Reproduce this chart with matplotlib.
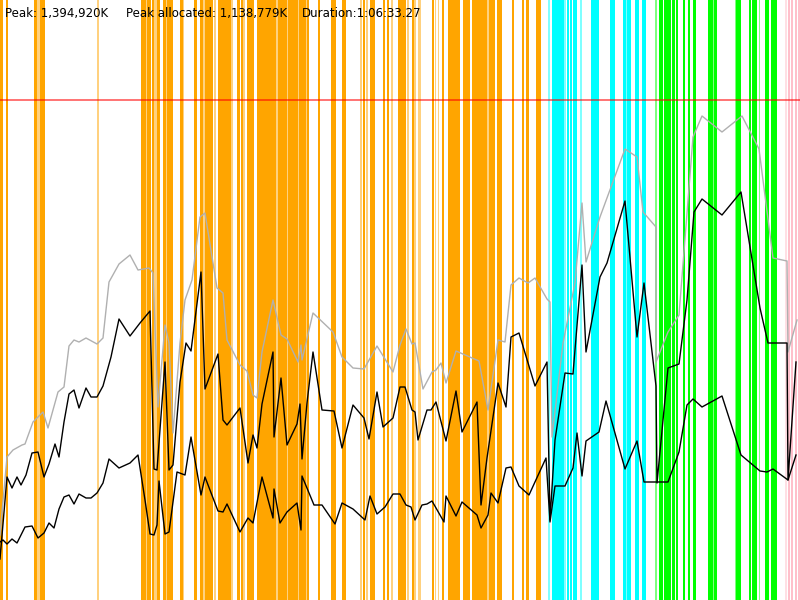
import matplotlib
matplotlib.use("Agg")
import matplotlib.pyplot as plt

# Event bands along the time axis: (start, width)
orange_spans = [(0, 3), (6, 2), (34, 3), (40, 5), (141, 5), (147, 4), (152, 2), (157, 3),
                (163, 3), (167, 6), (180, 3), (194, 3), (200, 3), (205, 8), (218, 13),
                (237, 3), (241, 2), (247, 7), (257, 4), (261, 15), (278, 9), (288, 10),
                (299, 7), (307, 2), (318, 2), (331, 5), (342, 2), (344, 2), (363, 2),
                (370, 5), (383, 2), (387, 2), (398, 8), (412, 2), (432, 2), (442, 2),
                (448, 12), (463, 7), (472, 11), (483, 4), (489, 6), (497, 5), (512, 2),
                (522, 2), (526, 3), (536, 5)]
orange_light = [(37, 3), (97, 2), (146, 1), (154, 3), (166, 1), (183, 1), (203, 2),
                (214, 2), (231, 2), (243, 2), (276, 2), (287, 1), (298, 1), (306, 1),
                (360, 2), (366, 2), (391, 2), (407, 2), (414, 2), (418, 3), (435, 1),
                (438, 1), (487, 2)]
cyan_spans = [(552, 12), (567, 2), (570, 2), (573, 4), (591, 8), (610, 5), (623, 3),
              (627, 4), (635, 4), (642, 4)]
cyan_light = [(548, 2), (564, 2), (580, 2), (626, 1)]
green_spans = [(659, 4), (664, 4), (668, 3), (672, 3), (676, 2), (683, 2), (688, 2),
               (693, 3), (708, 5), (714, 3), (736, 5), (749, 2), (752, 5), (765, 4),
               (771, 6)]
green_light = [(655, 2), (713, 1), (735, 1), (759, 1)]
pink_spans = [(788, 2), (791, 2), (795, 2), (798, 2)]
pink_light = [(785, 2)]

# Memory curves (level measured down from the top of the chart)
gray_t = [0, 7, 13, 22, 25, 33, 43, 48, 58, 64, 69, 74, 79, 86, 97, 103, 109, 119, 130,
          138, 149, 153, 158, 165, 169, 173, 180, 185, 192, 200, 205, 217, 223, 227, 240,
          247, 253, 257, 262, 273, 281, 287, 298, 301, 302, 313, 333, 342, 353, 364, 377,
          393, 400, 406, 412, 415, 423, 432, 436, 441, 446, 456, 479, 488, 498, 505, 511,
          519, 528, 535, 547, 550, 552, 563, 575, 582, 586, 600, 625, 637, 643, 656, 656,
          668, 679, 693, 702, 722, 742, 759, 773, 787, 788, 797]
gray_v = [535, 457, 450, 445, 444, 422, 412, 428, 392, 387, 346, 340, 342, 338, 344, 338,
          282, 264, 255, 270, 268, 273, 407, 325, 343, 433, 343, 300, 280, 217, 213, 288,
          293, 340, 365, 371, 395, 398, 352, 300, 335, 339, 362, 345, 360, 313, 332, 357,
          368, 369, 346, 372, 345, 329, 344, 343, 389, 372, 370, 363, 383, 351, 361, 410,
          340, 342, 285, 278, 283, 278, 299, 302, 437, 343, 283, 203, 262, 217, 149, 157,
          212, 227, 362, 332, 315, 137, 116, 132, 116, 149, 258, 261, 352, 320]

upper_t = [0, 7, 12, 17, 21, 26, 32, 38, 44, 49, 55, 59, 64, 69, 74, 79, 86, 91, 97, 103,
           111, 119, 130, 140, 150, 154, 157, 165, 169, 173, 180, 186, 191, 201, 205, 218,
           223, 227, 240, 248, 253, 257, 262, 273, 274, 281, 287, 297, 300, 302, 307, 313,
           322, 334, 342, 353, 364, 369, 377, 383, 393, 400, 405, 412, 415, 418, 427, 431,
           436, 446, 456, 462, 477, 481, 487, 498, 506, 511, 519, 535, 547, 550, 555, 565,
           573, 582, 586, 600, 607, 625, 637, 644, 656, 657, 668, 679, 687, 694, 702, 722,
           741, 760, 768, 787, 788, 796]
upper_v = [559, 477, 488, 477, 485, 475, 453, 452, 477, 464, 444, 457, 422, 394, 390, 408,
           388, 397, 397, 386, 357, 319, 336, 323, 311, 469, 470, 362, 470, 465, 382, 343,
           351, 272, 389, 354, 420, 425, 408, 463, 435, 448, 404, 352, 437, 378, 445, 424,
           404, 459, 403, 352, 410, 411, 448, 405, 418, 439, 392, 427, 418, 387, 387, 410,
           412, 440, 410, 410, 402, 441, 391, 432, 402, 505, 458, 383, 407, 337, 333, 386,
           362, 520, 440, 373, 374, 265, 352, 277, 263, 201, 337, 283, 386, 483, 368, 364,
           300, 212, 199, 215, 192, 308, 343, 343, 480, 362]

lower_t = [0, 3, 7, 12, 17, 25, 32, 38, 44, 49, 54, 59, 64, 69, 74, 79, 86, 91, 97, 103,
           109, 119, 130, 138, 145, 150, 154, 157, 159, 165, 169, 177, 185, 191, 201, 205,
           218, 223, 227, 240, 248, 253, 262, 273, 274, 280, 287, 297, 301, 302, 314, 322,
           335, 342, 353, 365, 370, 377, 385, 393, 400, 406, 411, 415, 422, 427, 432, 436,
           444, 446, 456, 462, 477, 481, 488, 491, 498, 506, 511, 519, 529, 546, 550, 555,
           565, 573, 577, 582, 586, 599, 606, 625, 637, 644, 656, 668, 679, 687, 693, 702,
           722, 741, 760, 767, 773, 788, 796]
lower_v = [542, 540, 544, 539, 543, 527, 526, 538, 533, 523, 528, 509, 497, 495, 504, 494,
           498, 498, 493, 483, 459, 468, 463, 455, 500, 534, 535, 525, 481, 534, 532, 472,
           475, 437, 495, 477, 511, 512, 504, 532, 518, 523, 477, 518, 489, 523, 512, 503,
           530, 476, 505, 505, 524, 503, 509, 520, 496, 514, 507, 494, 494, 505, 507, 520,
           505, 504, 501, 508, 522, 496, 516, 502, 515, 528, 515, 493, 503, 468, 467, 486,
           495, 458, 522, 486, 486, 468, 433, 476, 441, 432, 401, 469, 441, 482, 482, 482,
           452, 405, 399, 407, 396, 455, 471, 472, 469, 480, 455]

peak_level = 100
labels = ["Peak: 1,394,920K", "Peak allocated: 1,138,779K", "Duration:1:06:33.27"]
label_x = [5, 126, 302]


def main() -> None:
    fig = plt.figure(figsize=(8, 6), dpi=100)
    ax = fig.add_axes([0, 0, 1, 1])
    ax.set_xlim(0, 800)
    ax.set_ylim(600, 0)
    ax.axis("off")

    bands = [
        (orange_spans, "#FFA500", 1.0),
        (orange_light, "#FFA500", 0.5),
        (cyan_spans, "#00FFFF", 1.0),
        (cyan_light, "#00FFFF", 0.5),
        (green_spans, "#00FF00", 1.0),
        (green_light, "#00FF00", 0.5),
        (pink_spans, "#FFC0CB", 1.0),
        (pink_light, "#FFC0CB", 0.5),
    ]
    for spans, color, alpha in bands:
        ax.broken_barh(spans, (0, 600), facecolors=color, alpha=alpha,
                       linewidth=0, antialiased=False)

    ax.plot(gray_t, gray_v, color="#B0B0B0", lw=1.0)
    ax.plot(upper_t, upper_v, color="black", lw=1.0)
    ax.plot(lower_t, lower_v, color="black", lw=1.0)
    ax.axhline(peak_level, color="#FF0000", alpha=0.55, lw=1.4)

    for x, s in zip(label_x, labels):
        ax.text(x, 17, s, fontsize=8.5, color="black", va="baseline", ha="left",
                family="DejaVu Sans")

    fig.savefig("out.png", dpi=100)
    plt.close(fig)


if __name__ == "__main__":
    main()
